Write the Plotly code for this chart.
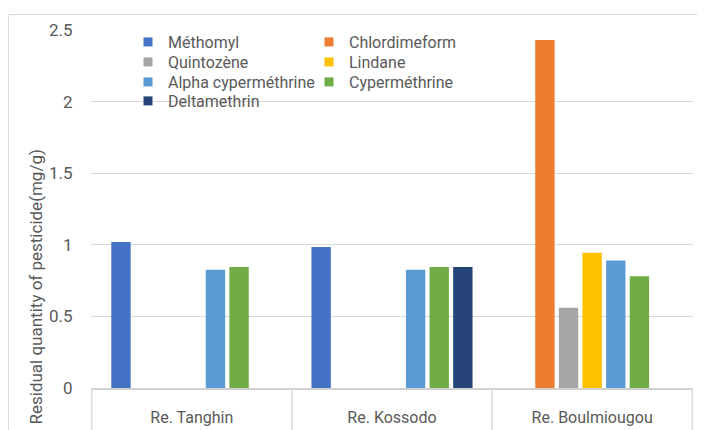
import plotly.graph_objects as go

categories = ["Re. Tanghin", "Re. Kossodo", "Re. Boulmiougou"]
series_names = ["Méthomyl", "Chlordimeform", "Quintozène", "Lindane",
                "Alpha cyperméthrine", "Cyperméthrine", "Deltamethrin"]
methomyl = [1.02, 0.985, None]
chlordimeform = [None, None, 2.43]
quintozene = [None, None, 0.56]
lindane = [None, None, 0.945]
alpha_cyper = [0.825, 0.825, 0.89]
cyper = [0.845, 0.845, 0.78]
deltamethrin = [None, 0.845, None]
series_values = [methomyl, chlordimeform, quintozene, lindane, alpha_cyper, cyper, deltamethrin]
colors = ["#4472C4", "#ED7D31", "#A5A5A5", "#FFC000", "#5B9BD5", "#70AD47", "#264478"]
y_ticks = [0, 0.5, 1, 1.5, 2, 2.5]
y_tick_labels = ["0", "0.5", "1", "1.5", "2", "2.5"]

# page is shown with an 8px body margin: work in page pixels, then shift
OFF = 8
W, H = 705 - OFF, 430 - OFF
L, R, T, B = 91 - OFF, 705 - 693, 30 - OFF, 430 - 388
pw, ph = W - L - R, H - T - B

def px_x(p):  # page pixel -> paper x
    return (p - OFF - L) / pw

def px_y(p):  # page pixel -> paper y
    return (H - B - (p - OFF)) / ph

TXT = "#595959"
FONT = "Roboto"

# legend entry positions (page px): text left x, row centre y
legend_text_x = [168, 349, 168, 349, 168, 349, 168]
legend_row_y = [43, 43, 63, 63, 83, 83, 102]

fig = go.Figure()
for name, vals, col in zip(series_names, series_values, colors):
    fig.add_trace(go.Bar(name=name, x=categories, y=vals, marker_color=col,
                         marker_line_width=0, showlegend=False))

legend_layout = {}
for i, (name, col) in enumerate(zip(series_names, colors)):
    lid = "legend" if i == 0 else f"legend{i + 1}"
    fig.add_trace(go.Scatter(name=name, x=[None], y=[None], mode="markers",
                             marker=dict(symbol="square", size=9, color=col),
                             showlegend=True, legend=lid, hoverinfo="skip"))
    legend_layout[lid] = dict(
        x=px_x(legend_text_x[i] - 40), y=px_y(legend_row_y[i] - 18),
        xanchor="left", yanchor="top", bgcolor="rgba(0,0,0,0)",
        font=dict(size=16, color=TXT, family=FONT), itemwidth=30,
        visible=True)

shapes = []
for b in [-0.5, 0.5, 1.5, 2.5]:
    shapes.append(dict(type="line", xref="x", yref="paper", x0=b, x1=b,
                       y0=0, y1=px_y(440), line=dict(color="#d9d9d9", width=1.5)))
shapes.append(dict(type="rect", xref="paper", yref="paper",
                   x0=px_x(8.5), x1=px_x(730), y0=px_y(14.5), y1=px_y(460),
                   line=dict(color="#d9d9d9", width=1), layer="below"))

fig.update_layout(
    width=W, height=H,
    margin=dict(l=L, r=R, t=T, b=B, autoexpand=False),
    paper_bgcolor="white", plot_bgcolor="white",
    showlegend=True,
    barmode="group", bargap=0.174, bargroupgap=0.18,
    font=dict(family=FONT, color=TXT, size=15),
    xaxis=dict(showline=True, linecolor="#d0d0d0", linewidth=2,
               ticks="outside", ticklen=14, tickcolor="rgba(0,0,0,0)",
               tickfont=dict(size=16, color=TXT), showgrid=False,
               categoryorder="array", categoryarray=categories),
    yaxis=dict(range=[0, 2.5], tickvals=y_ticks, ticktext=y_tick_labels,
               showgrid=True, gridcolor="#d9d9d9", gridwidth=1,
               zeroline=False, showline=False,
               ticks="outside", ticklen=14, tickcolor="rgba(0,0,0,0)",
               tickfont=dict(size=17, color=TXT)),
    shapes=shapes,
    annotations=[dict(text="Residual quantity of pesticide(mg/g)", textangle=-90,
                      xref="paper", yref="paper", x=px_x(35), y=px_y(148),
                      xanchor="center", yanchor="top", showarrow=False,
                      font=dict(size=17, color=TXT))],
    **legend_layout,
)

fig.write_html("out.html")
